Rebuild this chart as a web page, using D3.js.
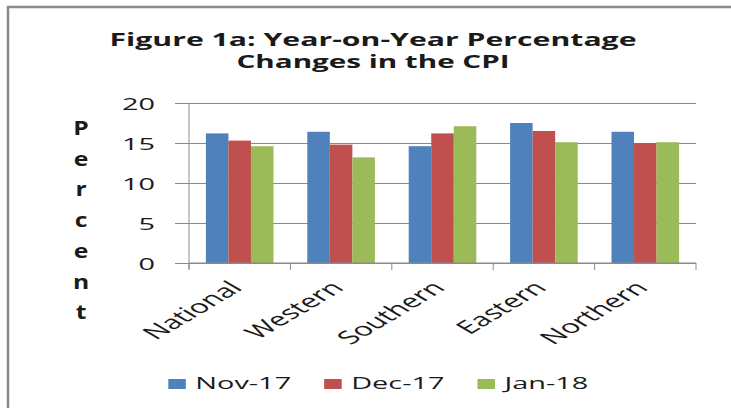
<!DOCTYPE html>
<html>
<head>
<meta charset="utf-8">
<script src="https://cdn.jsdelivr.net/npm/d3@7"></script>
<style>
  body { margin: 0; background: #fff; }
  text { font-family: "Open Sans", "DejaVu Sans", sans-serif; fill: #1a1a1a; }
</style>
</head>
<body>
<svg id="chart" width="731" height="408"></svg>
<script>
// data
const regions = ["National", "Western", "Southern", "Eastern", "Northern"];
const months = ["Nov-17", "Dec-17", "Jan-18"];
const nov17 = [16.2, 16.4, 14.6, 17.5, 16.4];
const dec17 = [15.3, 14.8, 16.2, 16.5, 15.0];
const jan18 = [14.6, 13.2, 17.1, 15.1, 15.1];
const yTicks = [0, 5, 10, 15, 20];
const titleLines = ["Figure 1a: Year-on-Year Percentage", "Changes in the CPI"];
const yLabel = "Percent";

const colors = ["#4f81bd", "#c0504d", "#9bbb59"];
const SX = 1.7; // the original picture is stretched sideways

const svg = d3.select("#chart");
const plot = { left: 189, right: 696, top: 103, bottom: 263 };

// chart area border (only left & top visible)
svg.append("rect")
    .attr("x", 8).attr("y", 7)
    .attr("width", 900).attr("height", 600)
    .attr("fill", "none")
    .attr("stroke", "#8a8a8a")
    .attr("stroke-width", 2.5);

// title
svg.append("g").selectAll("text")
    .data(titleLines)
    .join("text")
    .attr("transform", (d, i) => `translate(373,${45.5 + i * 22}) scale(${SX},1)`)
    .attr("text-anchor", "middle")
    .attr("font-weight", "bold")
    .attr("font-size", 17.5)
    .attr("textLength", (d, i) => (i === 0 ? 527 : 273) / SX)
    .attr("lengthAdjust", "spacingAndGlyphs")
    .text(d => d);

const x = d3.scaleBand().domain(regions).range([plot.left, plot.right]);
const xSub = d3.scaleBand().domain(months).range([0, x.bandwidth()]).paddingOuter(0.75);
const y = d3.scaleLinear().domain([0, 20]).range([plot.bottom, plot.top]);

// y axis: gridlines + labels
const yAxis = svg.append("g")
    .attr("transform", `translate(${plot.left},0)`)
    .call(d3.axisLeft(y).tickValues(yTicks).tickSize(0).tickFormat(d3.format("d")));
yAxis.select(".domain").remove();
yAxis.selectAll(".tick line")
    .attr("x1", -14).attr("x2", plot.right - plot.left)
    .attr("stroke", "#8a8a8a");
yAxis.selectAll(".tick text")
    .attr("x", null).attr("dy", "0.36em")
    .attr("transform", `translate(-34,0) scale(${SX},1)`)
    .attr("text-anchor", "end")
    .attr("font-size", 17)
    .attr("font-family", null)
    .attr("fill", "#333");
svg.append("line")
    .attr("x1", plot.left).attr("x2", plot.left)
    .attr("y1", plot.top).attr("y2", plot.bottom + 6)
    .attr("stroke", "#8a8a8a");

// bars
const series = [nov17, dec17, jan18];
months.forEach((m, si) => {
    svg.append("g").selectAll("rect")
        .data(regions.map((r, i) => ({ region: r, value: series[si][i] })))
        .join("rect")
        .attr("x", d => x(d.region) + xSub(m))
        .attr("y", d => y(d.value))
        .attr("width", xSub.bandwidth())
        .attr("height", d => y(0) - y(d.value))
        .attr("fill", colors[si]);
});

// x axis line and ticks at category edges
svg.append("line")
    .attr("x1", plot.left).attr("x2", plot.right)
    .attr("y1", plot.bottom).attr("y2", plot.bottom)
    .attr("stroke", "#8a8a8a");
svg.append("g").selectAll("line")
    .data(regions.map(r => x(r)).concat([plot.right]))
    .join("line")
    .attr("x1", d => d).attr("x2", d => d)
    .attr("y1", plot.bottom).attr("y2", plot.bottom + 7)
    .attr("stroke", "#8a8a8a");

// x labels, rotated
svg.append("g").selectAll("text")
    .data(regions)
    .join("text")
    .attr("transform", d => `translate(${x(d) + x.bandwidth() / 2 + 4},${plot.bottom + 26}) scale(${SX},1) rotate(-45)`)
    .attr("text-anchor", "end")
    .attr("font-size", 18.5)
    .text(d => d);

// y label: stacked letters
svg.append("g").selectAll("text")
    .data(yLabel.split(""))
    .join("text")
    .attr("transform", (d, i) => `translate(81,${135 + i * 30.7}) scale(1.3,1)`)
    .attr("text-anchor", "middle")
    .attr("font-weight", "bold")
    .attr("font-size", 19)
    .text(d => d);

// legend
const legend = svg.append("g");
let lx = 168.3;
months.forEach((m, i) => {
    legend.append("rect")
        .attr("x", lx).attr("y", 379)
        .attr("width", 17.5).attr("height", 10)
        .attr("fill", colors[i]);
    const t = legend.append("text")
        .attr("transform", `translate(${lx + 27},389) scale(${SX},1)`)
        .attr("font-size", 17)
        .text(m);
    lx += 27 + t.node().getComputedTextLength() * SX + 33;
});
</script>
</body>
</html>
